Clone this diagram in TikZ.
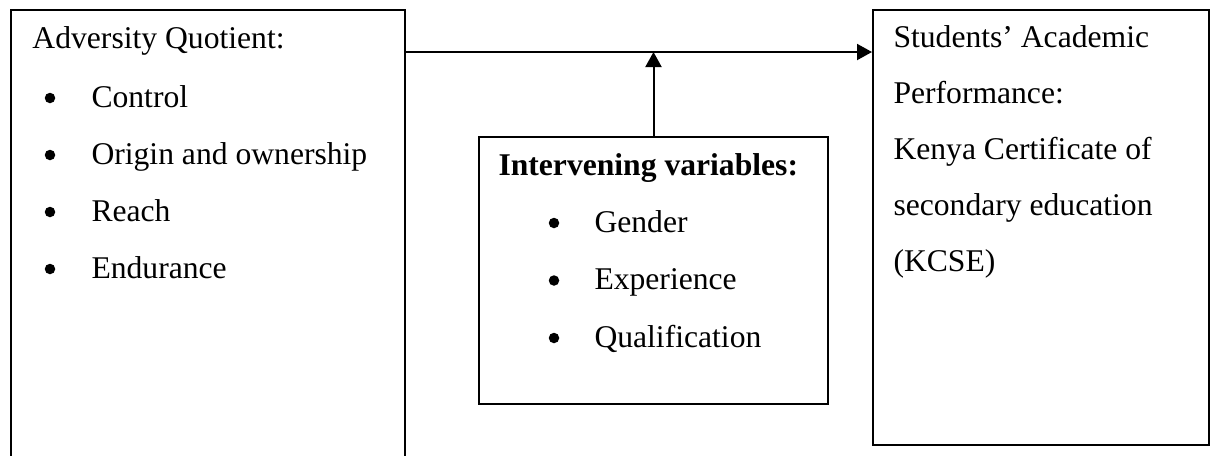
\documentclass[tikz,border=0pt]{standalone}
\usepackage{fontspec}
\setmainfont{Liberation Serif}
\usepackage{tikz}
\usetikzlibrary{arrows.meta, positioning, calc}

\begin{document}
\begin{tikzpicture}[x=0.4pt, y=-0.4pt,
    box/.style={draw, line width=0.8pt, anchor=north west, inner sep=0pt},
    txt/.style={anchor=base west, inner sep=0pt, font=\fontsize{12.65pt}{15pt}\selectfont},
    bul/.style={circle, fill, inner sep=0pt, minimum size=4.2pt},
    arr/.style={line width=0.8pt, -{Triangle[length=6pt, width=6.4pt]}}]
    \useasboundingbox (0,0) rectangle (1214,455);
    \clip (0,0) rectangle (1214,455);
    % the three boxes
    \node[box, minimum width=157.6pt, minimum height=200pt] (aq) at (10,9) {};
    \node[box, minimum width=139.6pt, minimum height=106.8pt] (iv) at (478,136) {};
    \node[box, minimum width=134.4pt, minimum height=174pt] (sap) at (872,9) {};
    % left box text
    \node[txt] (aq-t) at ([shift={(22,39)}]aq.north west) {Adversity Quotient:};
    \foreach \w [count=\i] in {Control, Origin and ownership, Reach, Endurance} {
        \node[bul] (aq-b\i) at ([shift={(40,32+57*\i)}]aq.north west) {};
        \node[txt] (aq-\i) at ([shift={(81,41+57*\i)}]aq.north west) {\w};
    }
    % middle box text
    \node[txt, font=\fontsize{12.65pt}{15pt}\selectfont\bfseries] (iv-t) at ([shift={(20,39)}]iv.north west) {Intervening variables:};
    \foreach \w [count=\i] in {Gender, Experience, Qualification} {
        \node[bul] (iv-b\i) at ([shift={(76,29.5+57.5*\i)}]iv.north west) {};
        \node[txt] (iv-\i) at ([shift={(116,38.5+57.5*\i)}]iv.north west) {\w};
    }
    % right box text
    \foreach \w [count=\i] in {Students’ Academic, Performance:, Kenya Certificate of, secondary education, (KCSE)} {
        \node[txt] (sap-\i) at ([shift={(21,-18+56*\i)}]sap.north west) {\w};
    }
    % connectors
    \draw[arr] (aq.north east) ++(0,43) coordinate (s) -- (s -| sap.west);
    \draw[arr] (iv.north) -- (iv.north |- s);
\end{tikzpicture}
\end{document}
